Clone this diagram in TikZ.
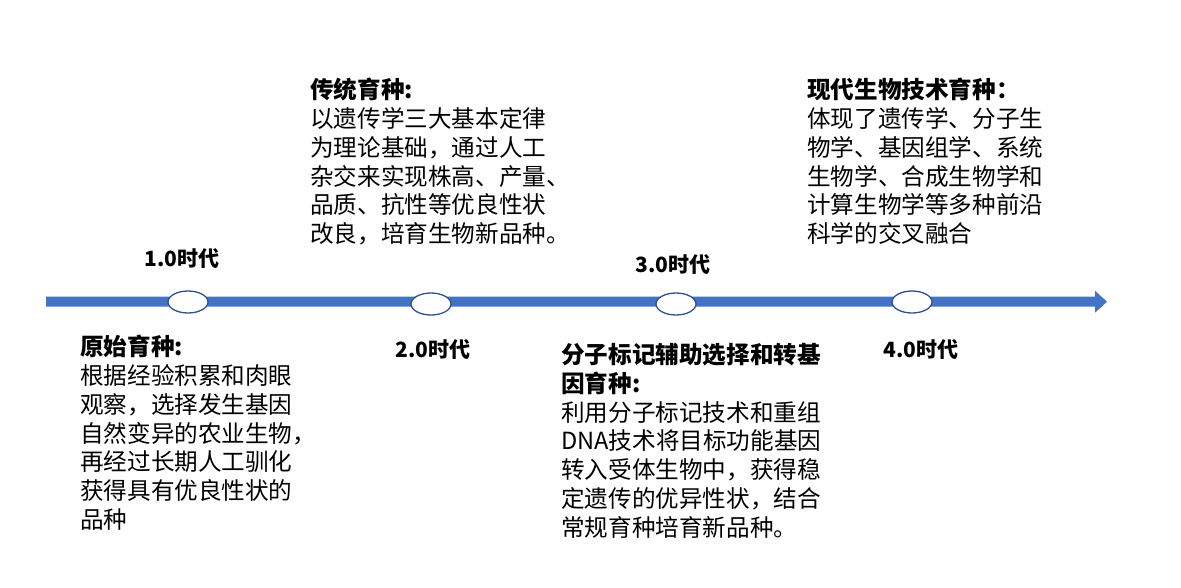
\documentclass[tikz,border=0pt]{standalone}
\usepackage{fontspec}
\setmainfont{Noto Sans CJK SC}
\usetikzlibrary{shapes.geometric}
\definecolor{barblue}{HTML}{4472C4}
\definecolor{edgeblue}{HTML}{2F528F}
\tikzset{
  era/.style={ellipse, draw=edgeblue, line width=1.3pt, fill=white, minimum width=40pt, minimum height=22pt, inner sep=0pt},
  eralabel/.style={font=\fontsize{21}{25}\selectfont\bfseries, inner sep=0pt},
  desc/.style={anchor=north west, align=left, inner sep=0pt, font=\fontsize{23.6}{28.8}\selectfont}
}
\begin{document}
\begin{tikzpicture}[x=1pt,y=-1pt]
\useasboundingbox (0,0) rectangle (1181,587);
% timeline arrow
\coordinate (start) at (46,301.7);
\coordinate (tip) at (1107,301.7);
\fill[barblue] (46,296.7) -- (1095,296.7) -- (1095,290.7) -- (tip) -- (1095,312.7) -- (1095,306.7) -- (46,306.7) -- cycle;
% era ellipses
\node[era] (e1) at (188,302) {};
\node[era] (e2) at (431,304) {};
\node[era] (e3) at (676,304) {};
\node[era] (e4) at (912,302) {};
% era labels
\node[eralabel] (l1) at (182,259) {1.0时代};
\node[eralabel] (l2) at (433,350) {2.0时代};
\node[eralabel] (l3) at (673,265) {3.0时代};
\node[eralabel] (l4) at (921,350) {4.0时代};
% descriptions
\node[desc] (d1) at (80,335) {\textbf{原始育种:}\\根据经验积累和肉眼\\观察，选择发生基因\\自然变异的农业生物，\\再经过长期人工驯化\\获得具有优良性状的\\品种};
\node[desc] (d2) at (310,78) {\textbf{传统育种:}\\以遗传学三大基本定律\\为理论基础，通过人工\\杂交来实现株高、产量、\\品质、抗性等优良性状\\改良，培育生物新品种。};
\node[desc] (d3) at (561,343) {\textbf{分子标记辅助选择和转基}\\\textbf{因育种:}\\利用分子标记技术和重组\\DNA技术将目标功能基因\\转入受体生物中，获得稳\\定遗传的优异性状，结合\\常规育种培育新品种。};
\node[desc] (d4) at (807,78) {\textbf{现代生物技术育种：}\\体现了遗传学、分子生\\物学、基因组学、系统\\生物学、合成生物学和\\计算生物学等多种前沿\\科学的交叉融合};
\end{tikzpicture}
\end{document}
